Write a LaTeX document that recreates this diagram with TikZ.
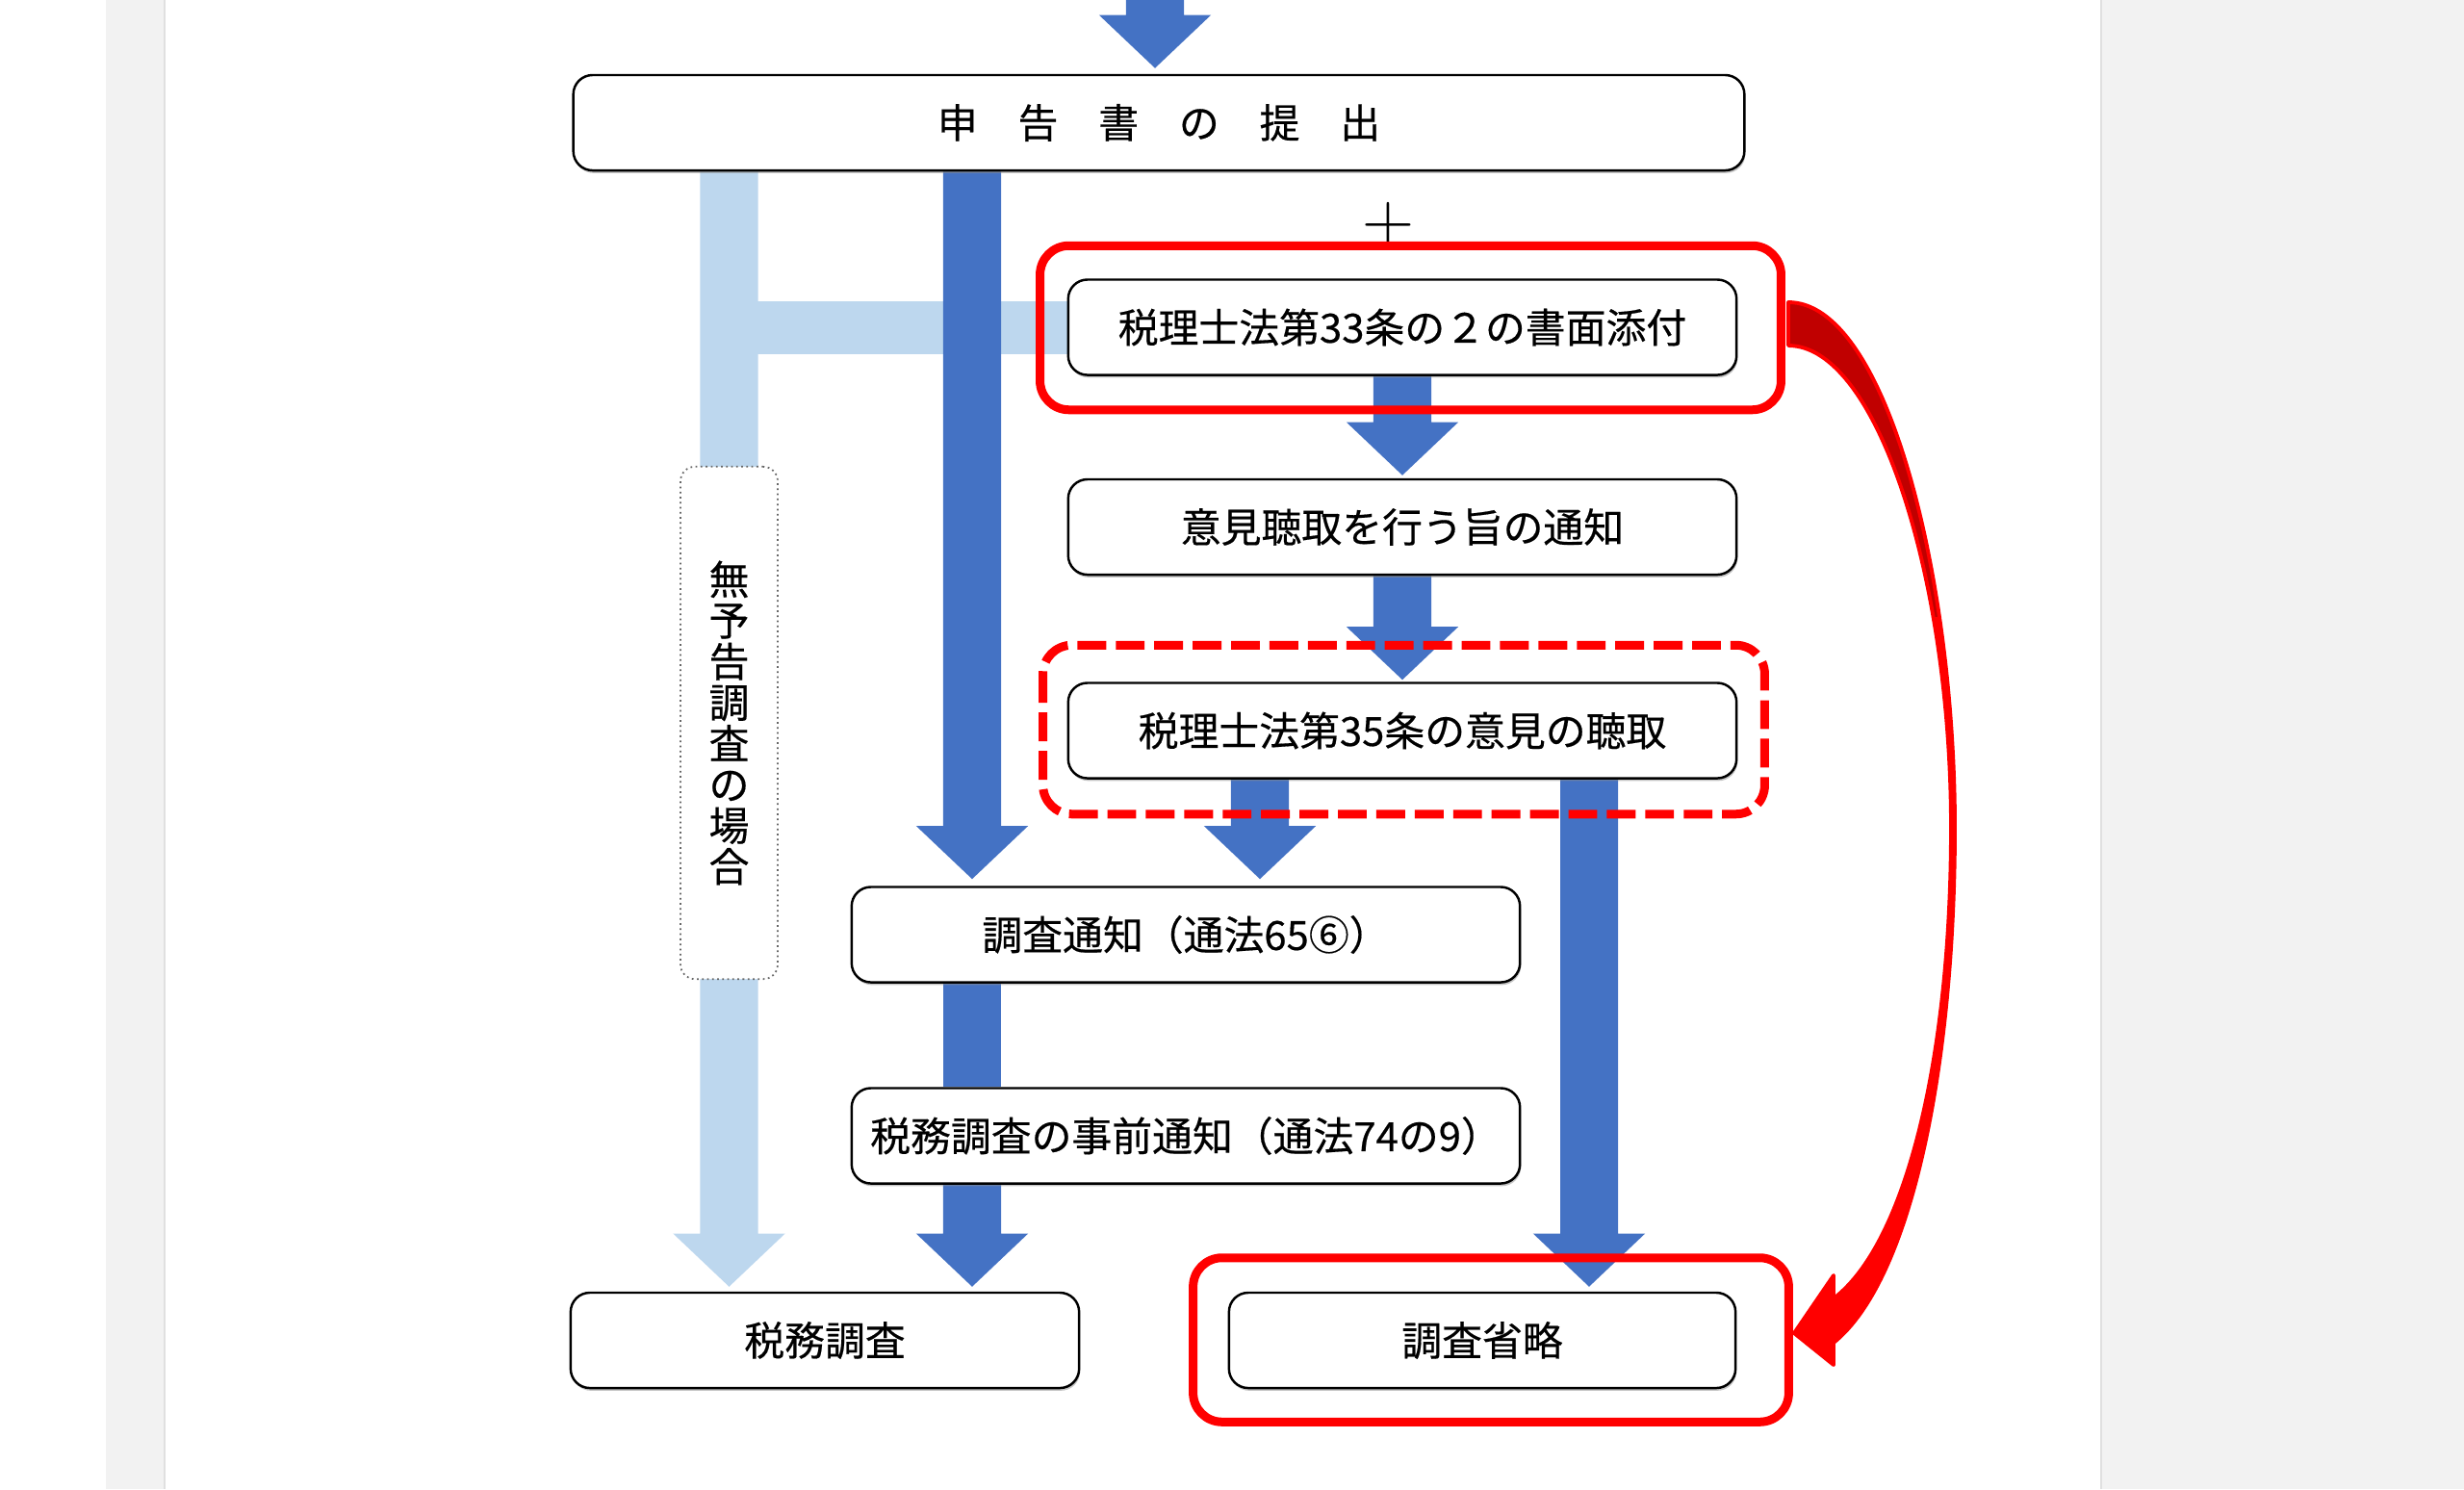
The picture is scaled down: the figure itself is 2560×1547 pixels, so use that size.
\documentclass[tikz,border=0pt]{standalone}
\usepackage{fontspec}
\newfontfamily\jpfont[FakeBold=0.4]{Noto Sans CJK JP}
\usepackage{xcolor}
\usetikzlibrary{calc,backgrounds,shadows}
\definecolor{flowblue}{HTML}{4472C4}
\definecolor{paleblue}{HTML}{BDD7EE}
\definecolor{deepred}{HTML}{C00000}

% block arrow pointing down: colour, start, tip
\newcommand{\flowarrow}[3]{%
  \fill[#1] let \p1=(#2), \p2=(#3) in
    (\x1-0.3cm,\y1) -- (\x1+0.3cm,\y1) -- (\x1+0.3cm,\y2+0.55cm)
    -- (\x1+0.58cm,\y2+0.55cm) -- (\x1,\y2) -- (\x1-0.58cm,\y2+0.55cm)
    -- (\x1-0.3cm,\y2+0.55cm) -- cycle;}

% outline of the curved red arrow
\newcommand{\bendoutline}{(1858,314) .. controls (1960,314) and (2031,600) .. (2031,860)
  .. controls (2031,1100) and (1988,1328) .. (1905,1395)
  -- (1905,1418) -- (1864,1385) -- (1905,1325) -- (1905,1349)
  .. controls (1980,1292) and (2027,1100) .. (2027,860)
  .. controls (2027,600) and (1950,359) .. (1858,359) -- cycle}

\begin{document}
\begin{tikzpicture}[x=0.01cm, y=-0.01cm,
    stepbox/.style={draw, line width=0.7pt, rounded corners=0.2cm, fill=white,
      minimum width=6.94cm, minimum height=0.99cm, inner sep=0pt,
      font=\jpfont\fontsize{11.9pt}{14pt}\selectfont,
      drop shadow={shadow xshift=0.3pt, shadow yshift=-0.8pt, fill=black!45}},
    notebox/.style={draw=black!60, densely dotted, line width=0.5pt, rounded corners=0.15cm,
      fill=white, minimum width=1.01cm, minimum height=5.32cm, inner sep=0pt, align=center,
      font=\jpfont\fontsize{11.9pt}{12.12pt}\selectfont},
    redframe/.style={draw=red, line width=2.56pt, rounded corners=0.3cm}]
    \useasboundingbox (0,0) rectangle (2560,1547);

    % Steps
    \node[stepbox, minimum width=12.16cm] (filing) at (1204,127.5) {申　告　書　の　提　出};
    \node[stepbox] (attach) at (1457,340) {税理士法第33条の２の書面添付};
    \node[stepbox] (notice) at (1457,547.5) {意見聴取を行う旨の通知};
    \node[stepbox] (hearing) at (1457,759) {税理士法第35条の意見の聴取};
    \node[stepbox] (examnotice) at (1232,971) {調査通知（通法65⑥）};
    \node[stepbox] (prenotice) at (1232,1180) {税務調査の事前通知（通法74の9）};
    \node[stepbox, minimum width=5.28cm] (audit) at (857,1392.5) {税務調査};
    \node[stepbox, minimum width=5.26cm] (omit) at (1540,1392.5) {調査省略};
    \node[notebox] (surprise) at (757.5,751) {無\\予\\告\\調\\査\\の\\場\\合};
    \node (plus) at (1442,234) {\fontsize{21.3pt}{22pt}\selectfont +};

    \begin{scope}[on background layer]
        % page strips
        \fill[black!5] (110,0) rectangle (171,1547);
        \fill[black!5] (2183,0) rectangle (2560,1547);
        \draw[black!12] (171,0) -- (171,1547);
        \draw[black!12] (2183,0) -- (2183,1547);

        \coordinate (entry) at (1200,-5);
        \coordinate (trunk) at (1010,0);
        \coordinate (split) at (757.5,340);

        % pale route
        \draw[paleblue, line width=0.55cm] (split) -- (attach.west);
        \flowarrow{paleblue}{filing.south -| surprise}{$(audit.north -| surprise)+(0,-5)$}

        % blue route
        \flowarrow{flowblue}{entry}{$(filing.north)+(0,-6)$}
        \flowarrow{flowblue}{filing.south -| trunk}{$(examnotice.north -| trunk)+(0,-7)$}
        \flowarrow{flowblue}{attach.south}{$(notice.north)+(0,-3)$}
        \flowarrow{flowblue}{notice.south}{$(hearing.north)+(0,-2)$}
        \flowarrow{flowblue}{$(hearing.south)+(-148,0)$}{$(examnotice.north)+(0,-7)$}
        \flowarrow{flowblue}{$(hearing.south)+(194,0)$}{$(omit.north)+(0,-5)$}
        \draw[flowblue, line width=0.6cm] (examnotice.south -| trunk) -- (prenotice.north -| trunk);
        \flowarrow{flowblue}{prenotice.south -| trunk}{$(audit.north -| trunk)+(0,-5)$}
    \end{scope}

    % Red frames
    \draw[redframe] ($(attach.north west)+(-28,-34)$) rectangle ($(attach.south east)+(45,35)$);
    \draw[redframe, dash pattern=on 8.5pt off 2.85pt]
        ($(hearing.north west)+(-25,-38)$) rectangle ($(hearing.south east)+(28,36)$);
    \draw[redframe] ($(omit.north west)+(-36,-35)$) rectangle ($(omit.south east)+(54,34)$);

    % Curved arrow
    \fill[red] \bendoutline;
    \begin{scope}
        \clip (1850,300) rectangle (2100,640);
        \fill[deepred] \bendoutline;
    \end{scope}
    \draw[red, line width=1.1pt, line join=round] \bendoutline;
\end{tikzpicture}
\end{document}
